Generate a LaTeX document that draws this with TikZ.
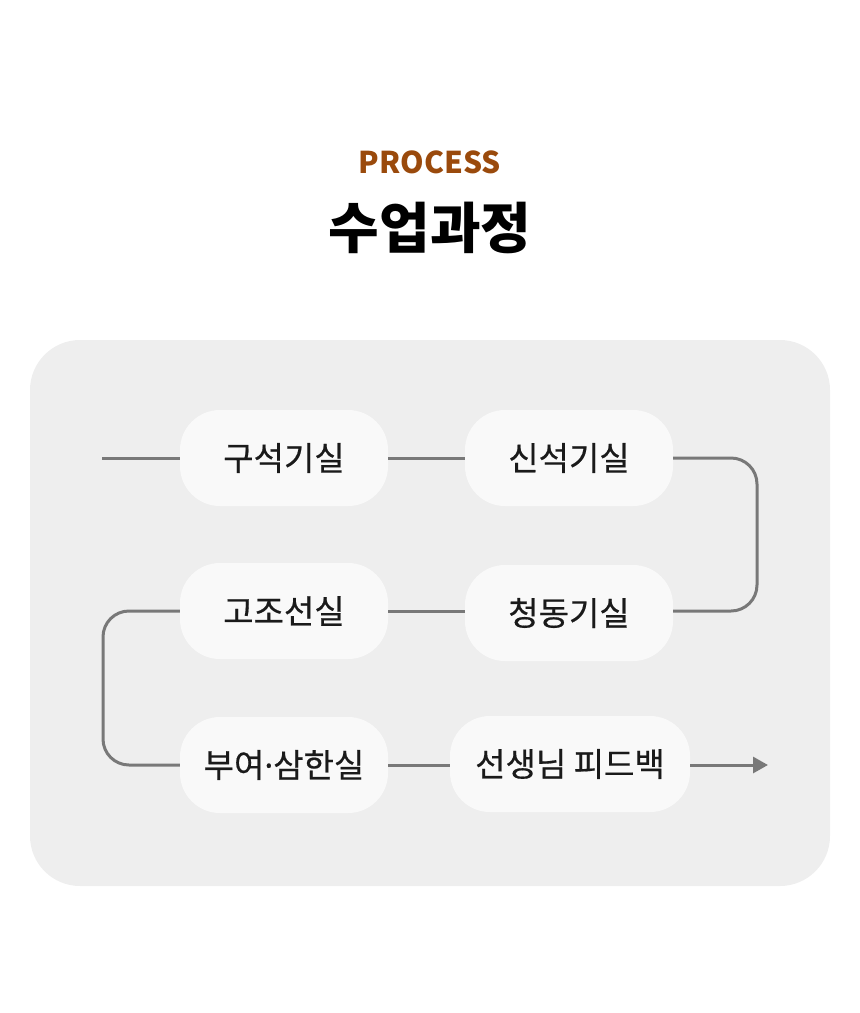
\documentclass[tikz,border=0pt]{standalone}
\usepackage{fontspec}
\setmainfont{Noto Sans CJK KR}
\newfontfamily\stagefont[FakeBold = 0.5]{Noto Sans CJK KR}
\newfontfamily\dotfont[FakeBold = 0.5]{Noto Sans}
\usetikzlibrary{arrows.meta}
\definecolor{panelgray}{HTML}{EEEEEE}
\definecolor{boxwhite}{HTML}{F9F9F9}
\definecolor{linegray}{HTML}{787878}
\definecolor{procbrown}{HTML}{9A4A0C}
\definecolor{inkblack}{HTML}{1A1A1A}
\tikzset{
  stagebox/.style = {fill = boxwhite, rounded corners = 40pt, minimum height = 96pt,
    minimum width = 208pt, inner sep = 0pt, text = inkblack, font = \stagefont\fontsize{33}{33}\selectfont},
  link/.style = {draw = linegray, line width = 3pt},
}

\begin{document}
\begin{tikzpicture} [x = 1pt, y = -1pt]
\useasboundingbox (0, 0) rectangle (860, 1013);
\fill[panelgray, rounded corners = 50pt] (30, 340) rectangle (830, 886);
\node[text = procbrown, font = \bfseries\fontsize{30}{30}\selectfont] (proc) at (430, 162){PROCESS};
\node[text = black, font = \bfseries\fontsize{55}{55}\selectfont] (title) at (430, 228){수업과정};
\node[stagebox] (gu) at (284, 458){구석기실};
\node[stagebox] (sin) at (569, 458){신석기실};
\node[stagebox] (go) at (284, 611){고조선실};
\node[stagebox] (cheong) at (569, 613){청동기실};
\node[stagebox] (buyeo) at (284, 765){부여{\dotfont ·}삼한실};
\node[stagebox, minimum width = 240pt] (feed) at (570, 764){선생님 피드백};
\coordinate (start) at (102, 458);
\coordinate (finish) at (768, 765);
\draw[link] (start) -- (gu.west);
\draw[link] (gu.east) -- (sin.west);
\draw[link, rounded corners = 26pt] (sin.east) -- (757, 458) -- (757, 611) -- (cheong.east |- go);
\draw[link] (cheong.west |- go) -- (go.east);
\draw[link, rounded corners = 26pt] (go.west) -- (103, 611) -- (103, 765) -- (buyeo.west);
\draw[link] (buyeo.east) -- (feed.west |- buyeo);
\draw[link, -{Triangle[length = 15pt, width = 16pt]}] (feed.east |- buyeo) -- (finish);
\end{tikzpicture}
\end{document}
